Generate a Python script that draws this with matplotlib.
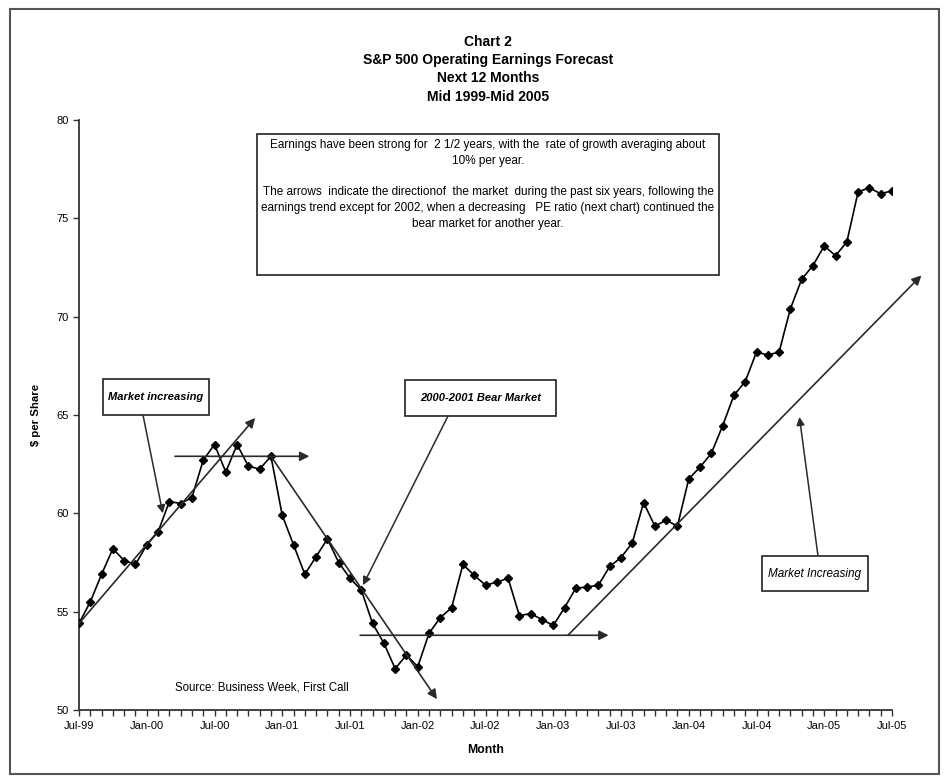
import matplotlib
matplotlib.use("Agg")
import matplotlib.pyplot as plt
from matplotlib.patches import Rectangle

plt.rcParams['font.family'] = ['Liberation Sans', 'DejaVu Sans']

# Monthly S&P 500 operating earnings forecast, next 12 months ($ per share), Jul-99 .. Jul-05
earnings = [
    54.4, 55.5, 56.9, 58.2, 57.6, 57.4, 58.4, 59.05, 60.6, 60.5, 60.8, 62.7,
    63.5, 62.1, 63.5, 62.4, 62.25, 62.9, 59.9, 58.4, 56.9, 57.8, 58.7, 57.5,
    56.7, 56.1, 54.4, 53.4, 52.1, 52.8, 52.2, 53.9, 54.7, 55.2, 57.4, 56.85,
    56.35, 56.5, 56.7, 54.8, 54.9, 54.6, 54.3, 55.2, 56.2, 56.25, 56.35, 57.3,
    57.75, 58.5, 60.55, 59.35, 59.65, 59.35, 61.75, 62.35, 63.05, 64.45, 66.0, 66.7,
    68.2, 68.05, 68.2, 70.4, 71.9, 72.6, 73.6, 73.1, 73.8, 76.35, 76.55, 76.25,
    76.4,
]
months = list(range(len(earnings)))
tick_labels = ["Jul-99", "Jan-00", "Jul-00", "Jan-01", "Jul-01", "Jan-02", "Jul-02",
               "Jan-03", "Jul-03", "Jan-04", "Jul-04", "Jan-05", "Jul-05"]
y_ticks = [50, 55, 60, 65, 70, 75, 80]

# Market-direction arrows: (start month, start value, end month, end value)
trend_arrows = [
    (0.0, 54.4, 15.6, 64.85),
    (8.5, 62.9, 20.4, 62.9),
    (17.0, 62.9, 31.7, 50.55),
    (24.9, 53.8, 46.9, 53.8),
    (43.3, 53.8, 74.6, 72.1),
]

W, H = 948, 783
fig = plt.figure(figsize=(W / 100, H / 100), dpi=100)


def fx(px):
    return px / W


def fy(py):
    return 1 - py / H


ax = fig.add_axes([fx(79), fy(710), fx(892) - fx(79), fy(120) - fy(710)])

ax.plot(months, earnings, color='black', lw=1.2, marker='D', ms=4.5,
        mfc='black', mec='black', zorder=3)

ax.set_xlim(0, 72)
ax.set_ylim(50, 80)
ax.set_xticks(range(0, 73, 6))
ax.set_xticklabels(tick_labels)
ax.set_xticks(range(0, 73), minor=True)
ax.set_yticks(y_ticks)
ax.tick_params(axis='both', which='both', direction='out', length=4, width=1,
               labelsize=8, color='#333333')
ax.tick_params(axis='x', pad=4)
for s in ('top', 'right'):
    ax.spines[s].set_visible(False)
for s in ('left', 'bottom'):
    ax.spines[s].set_linewidth(1.3)
    ax.spines[s].set_color('#333333')

ax.set_xlabel("Month", fontsize=8.8, fontweight='bold', labelpad=9)
ax.set_ylabel("$ per Share", fontsize=8.2, fontweight='bold', labelpad=11)

arrow_kw = dict(arrowstyle='-|>', mutation_scale=14, lw=1.2, color='#2a2a2a',
                shrinkA=0, shrinkB=0)
for x0, y0, x1, y1 in trend_arrows:
    ax.annotate("", xy=(x1, y1), xytext=(x0, y0), xycoords='data',
                arrowprops=arrow_kw, annotation_clip=False, zorder=4)

# Title
titles = ["Chart 2", "S&P 500 Operating Earnings Forecast", "Next 12 Months",
          "Mid 1999-Mid 2005"]
for i, t in enumerate(titles):
    fig.text(fx(488), fy(42 + i * 18.2), t, ha='center', va='center',
             fontsize=10, fontweight='bold')

# Commentary box
fig.patches.append(Rectangle((fx(257), fy(275)), fx(719) - fx(257), fy(134) - fy(275),
                             transform=fig.transFigure, fill=False,
                             edgecolor='#333333', lw=1.3))
note_lines = [
    (145, "Earnings have been strong for  2 1/2 years, with the  rate of growth averaging about"),
    (161, "10% per year."),
    (192, "The arrows  indicate the directionof  the market  during the past six years, following the"),
    (208, "earnings trend except for 2002, when a decreasing   PE ratio (next chart) continued the"),
    (224, "bear market for another year."),
]
for py, t in note_lines:
    fig.text(fx(488), fy(py), t, ha='center', va='center', fontsize=8.5)

# Callout boxes with pointer arrows
callouts = [
    ("Market increasing", (103, 379, 209, 415), (143, 415), (7.42, 60.0), 'bold', 8.0),
    ("2000-2001 Bear Market", (405, 380, 556, 416), (448, 416), (25.15, 56.35), 'bold', 8.0),
    ("Market Increasing", (762, 556, 868, 591), (818, 556), (63.8, 64.9), 'normal', 8.5),
]
for text, (l, t, r, b), tail, tip, weight, size in callouts:
    fig.patches.append(Rectangle((fx(l), fy(b)), fx(r) - fx(l), fy(t) - fy(b),
                                 transform=fig.transFigure, facecolor='white',
                                 edgecolor='#333333', lw=1.3, zorder=5))
    fig.text(fx((l + r) / 2), fy((t + b) / 2), text, ha='center', va='center',
             fontsize=size, fontstyle='italic', fontweight=weight, zorder=6)
    ax.annotate("", xy=tip, xycoords='data',
                xytext=(fx(tail[0]), fy(tail[1])), textcoords='figure fraction',
                arrowprops=dict(arrowstyle='-|>', mutation_scale=12, lw=1.1,
                                color='#2a2a2a', shrinkA=0, shrinkB=0),
                annotation_clip=False, zorder=4)

fig.text(fx(175), fy(687), "Source: Business Week, First Call", ha='left',
         va='center', fontsize=8.3)

# Outer frame
fig.patches.append(Rectangle((fx(10), fy(774)), fx(939) - fx(10), fy(9) - fy(774),
                             transform=fig.transFigure, fill=False,
                             edgecolor='#555555', lw=1.5))

fig.savefig("out.png", dpi=100, facecolor='white')
